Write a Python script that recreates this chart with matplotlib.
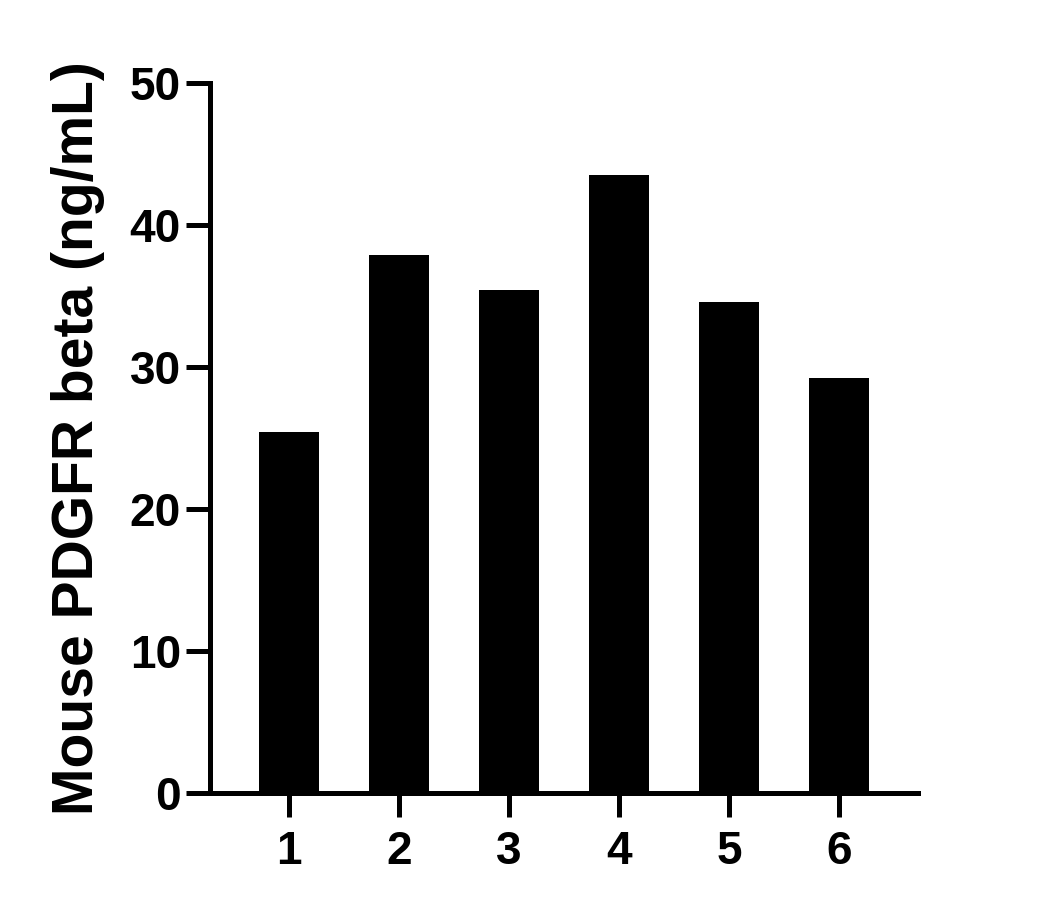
import matplotlib
matplotlib.use("Agg")
import matplotlib.pyplot as plt

# Sample data
samples = ["1", "2", "3", "4", "5", "6"]
values = [25.4, 37.9, 35.4, 43.5, 34.6, 29.2]
y_ticks = [0, 10, 20, 30, 40, 50]


def plot_bars(samples, values):
    plt.rcParams['font.family'] = ['Liberation Sans', 'DejaVu Sans']
    plt.rcParams['font.weight'] = 'bold'

    fig = plt.figure(figsize=(10.57, 9.09), dpi=100)
    ax = fig.add_axes([210 / 1057, 116 / 909, 708 / 1057, 710 / 909])

    x = list(range(1, len(samples) + 1))
    ax.bar(x, values, width=0.55, color='black')

    ax.set_xlim(0.28, 6.72)
    ax.set_ylim(0, 50)
    ax.set_xticks(x)
    ax.set_xticklabels(samples)
    ax.set_yticks(y_ticks)

    for side in ['top', 'right']:
        ax.spines[side].set_visible(False)
    for side in ['left', 'bottom']:
        ax.spines[side].set_linewidth(3.6)
        ax.spines[side].set_capstyle('projecting')

    ax.tick_params(width=3.6, length=17, labelsize=33)
    ax.tick_params(axis='y', pad=4)
    ax.tick_params(axis='x', pad=10)
    for lab in ax.get_xticklabels() + ax.get_yticklabels():
        lab.set_fontweight('bold')

    ax.set_ylabel('Mouse PDGFR beta (ng/mL)', fontsize=41, fontweight='bold', labelpad=18)

    fig.savefig('out.png', dpi=100)


def main():
    plot_bars(samples, values)


if __name__ == "__main__":
    main()
